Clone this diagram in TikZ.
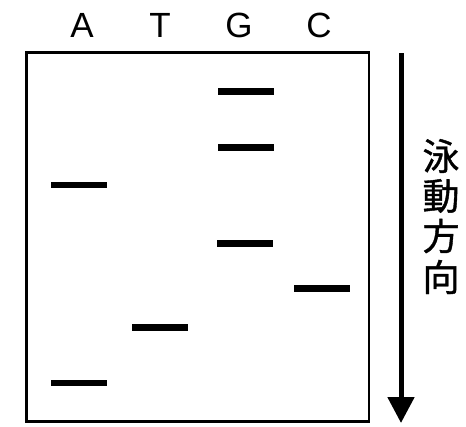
\documentclass[tikz,border=0pt]{standalone}
\usepackage{fontspec}
\setmainfont{Liberation Sans}
\newfontfamily\cjk[FakeBold=1]{Noto Sans CJK JP}
\usetikzlibrary{arrows.meta}
\begin{document}
\begin{tikzpicture}[x=1pt,y=-1pt,
  band/.style={fill=black, inner sep=0pt, minimum width=56pt, minimum height=6.5pt},
  lane/.style={font=\fontsize{35}{35}\selectfont, inner sep=0pt, anchor=base},
  gel/.style={line width=2.5pt},
  flow/.style={line width=5pt, -{Triangle[width=26pt,length=26pt]}},
  kanji/.style={font=\cjk\fontsize{37}{37}\selectfont, inner sep=0pt}]
\useasboundingbox (0,0) rectangle (466,426);

% gel frame
\draw[gel] (26.5,52.5) rectangle (369,421.5);

% lane labels
\node[lane] (la) at (82,37) {A};
\node[lane] (lt) at (160,37) {T};
\node[lane] (lg) at (239,37) {G};
\node[lane] (lc) at (319,37) {C};

% bands
\node[band] (a1) at (78.5,185) {};
\node[band] (a2) at (78.5,383) {};
\node[band] (t1) at (160,327.5) {};
\node[band] (g1) at (246,91.5) {};
\node[band] (g2) at (246,147.5) {};
\node[band] (g3) at (245,243.5) {};
\node[band] (c1) at (322,288.5) {};

% migration direction
\coordinate (start) at (401,53);
\coordinate (end) at (401,423);
\draw[flow] (start) -- (end);

\node[kanji] (k1) at (441,156) {泳};
\node[kanji] (k2) at (441,196) {動};
\node[kanji] (k3) at (441,236) {方};
\node[kanji] (k4) at (441,277) {向};
\end{tikzpicture}
\end{document}
